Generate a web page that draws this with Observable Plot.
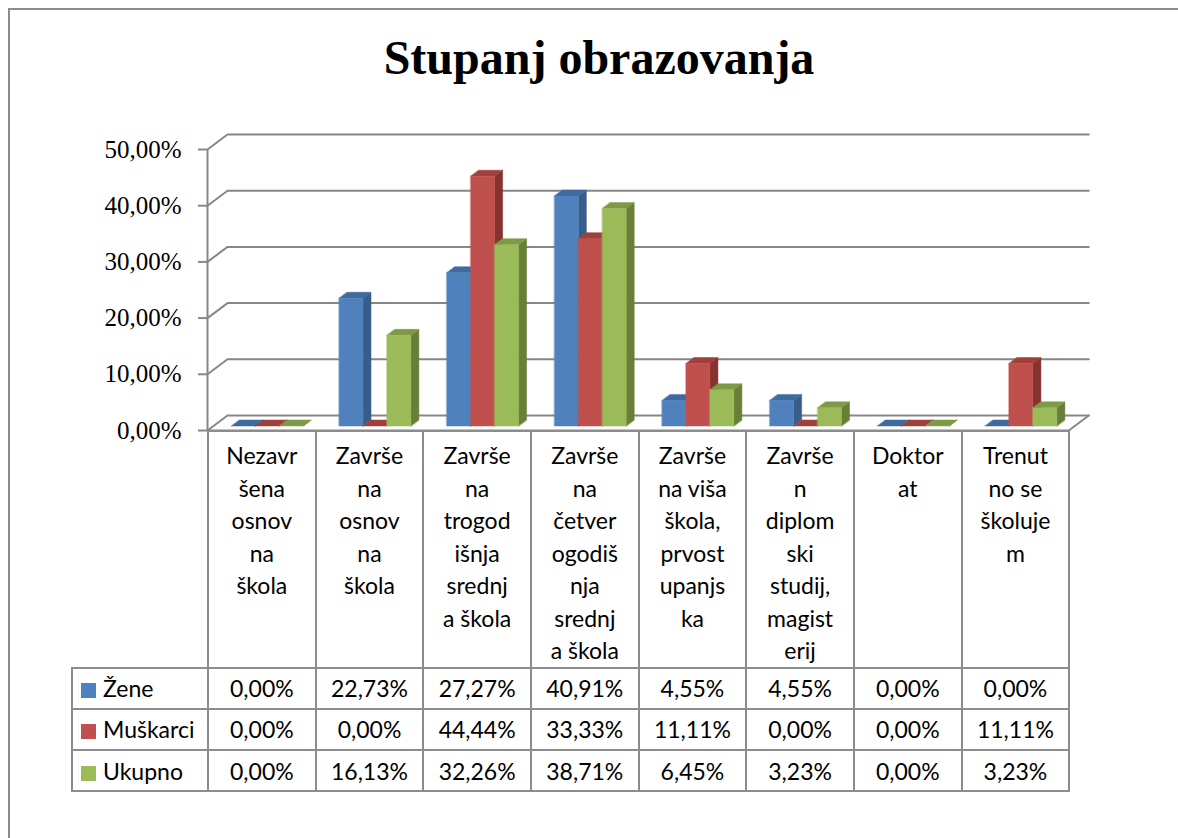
<!DOCTYPE html>
<html><head><meta charset="utf-8">
<script src="https://cdn.jsdelivr.net/npm/d3@7"></script>
<script src="https://cdn.jsdelivr.net/npm/@observablehq/plot@0.6"></script>
<style>
body{margin:0;background:#fff;}
#wrap{position:relative;width:1178px;height:838px;overflow:hidden;background:#fff;}
#frame{position:absolute;left:8px;top:8px;width:1300px;height:1000px;border-left:2px solid #8c8c8c;border-top:2px solid #8c8c8c;}
#title{position:absolute;left:599px;top:34px;transform:translateX(-50%);font-family:"Liberation Serif";font-weight:bold;font-size:48px;line-height:48px;white-space:nowrap;color:#000;}
#chart{position:absolute;left:0;top:100px;}
#tbl{position:absolute;left:71px;top:430px;border-collapse:collapse;table-layout:fixed;font-family:Lato;font-size:23px;color:#000;}
#tbl td{border:2px solid #8c8c8c;text-align:center;padding:0;}
#tbl td.blank{border:none;}
#tbl td.hdr{vertical-align:top;line-height:32.5px;padding-top:7px;}
#tbl td.leg{text-align:left;padding-left:8px;white-space:nowrap;}
#tbl .sw{display:inline-block;width:15px;height:15px;margin-right:7px;vertical-align:-1px;}
</style>
</head><body>
<div id="wrap">
  <div id="frame"></div>
  <div id="title"></div>
  <div id="chart"></div>
  <table id="tbl"></table>
</div>
<script>
// ---- data ----
const chartTitle = "Stupanj obrazovanja";
const categoryLines = [
  ["Nezavr","šena","osnov","na","škola"],
  ["Završe","na","osnov","na","škola"],
  ["Završe","na","trogod","išnja","srednj","a škola"],
  ["Završe","na","četver","ogodiš","nja","srednj","a škola"],
  ["Završe","na viša","škola,","prvost","upanjs","ka"],
  ["Završe","n","diplom","ski","studij,","magist","erij"],
  ["Doktor","at"],
  ["Trenut","no se","školuje","m"]
];
const seriesNames = ["Žene","Muškarci","Ukupno"];
const zene     = [0.00, 22.73, 27.27, 40.91, 4.55, 4.55, 0.00, 0.00];
const muskarci = [0.00, 0.00, 44.44, 33.33, 11.11, 0.00, 0.00, 11.11];
const ukupno   = [0.00, 16.13, 32.26, 38.71, 6.45, 3.23, 0.00, 3.23];
const yTicks = [0, 10, 20, 30, 40, 50];
const frontColors = ["#4F81BD", "#C0504D", "#9BBB59"];
const topColors   = ["#3F6A9E", "#A13F3C", "#7E9A46"];
const sideColors  = ["#385D8A", "#86322F", "#677F37"];

const seriesValues = [zene, muskarci, ukupno];
const fmt = v => v.toFixed(2).replace(".", ",") + "%";

document.getElementById("title").textContent = chartTitle;

// ---- layout ----
const W = 1178, H = 370, mL = 207, mR = 109.7, mT = 49, mB = 40;
const n = categoryLines.length;
const yMax = 50;
const kx = (W - mL - mR) / n, ky = (H - mT - mB) / yMax;
const DX = 20 / kx, DY = 15 / ky;       // depth of the 3D box in data units
const gapRatio = 1.5;
const bw = 1 / (seriesValues.length + gapRatio);
const f0 = 0.3, f1 = 0.7;               // bar depth fraction (front, back)

const P = (x, y, f) => ({x: x + f * DX, y: y + f * DY});

// back wall gridlines and floor
const grid = [];
for (const t of yTicks) {
  grid.push({id: "g" + t, ...P(0, t, 0)}, {id: "g" + t, ...P(0, t, 1)}, {id: "g" + t, ...P(n, t, 1)});
}
const floor = [{id: "f", ...P(0, 0, 0)}, {id: "f", ...P(n, 0, 0)}, {id: "f", ...P(n, 0, 1)}];

// bar polygons
const polys = [];
for (let i = 0; i < n; i++) {
  seriesValues.forEach((vals, j) => {
    const v = vals[i];
    const xl = i + (1 - seriesValues.length * bw) / 2 + j * bw, xr = xl + bw;
    const add = (id, color, pts) => pts.forEach(p => polys.push({id, color, ...p}));
    add(`s${i}-${j}`, sideColors[j], [P(xr, 0, f0), P(xr, v, f0), P(xr, v, f1), P(xr, 0, f1)]);
    add(`t${i}-${j}`, topColors[j], [P(xl, v, f0), P(xr, v, f0), P(xr, v, f1), P(xl, v, f1)]);
    if (v > 0) add(`f${i}-${j}`, frontColors[j], [P(xl, 0, f0), P(xr, 0, f0), P(xr, v, f0), P(xl, v, f0)]);
  });
}

const gridColor = "#878787";
const chart = Plot.plot({
  width: W, height: H,
  marginLeft: mL, marginRight: mR, marginTop: mT, marginBottom: mB,
  x: {domain: [0, n], axis: null},
  y: {domain: [0, yMax], label: null},
  color: {type: "identity"},
  marks: [
    Plot.line(grid, {x: "x", y: "y", z: "id", stroke: gridColor, strokeWidth: 2}),
    Plot.line(floor, {x: "x", y: "y", z: "id", stroke: gridColor, strokeWidth: 2}),
    Plot.ruleX([0], {y1: 0, y2: yMax, stroke: gridColor, strokeWidth: 2}),
    Plot.axisY({ticks: yTicks, tickSize: 9, tickPadding: 17, tickFormat: fmt, label: null,
      fontFamily: "Liberation Serif", fontSize: 25, stroke: gridColor, strokeWidth: 2, fill: "#000"}),
    Plot.line(polys, {x: "x", y: "y", z: "id", fill: "color", stroke: "color", strokeWidth: 0.5, curve: "linear-closed"})
  ]
});
document.getElementById("chart").appendChild(chart);

// ---- data table ----
const tbl = document.getElementById("tbl");
const colgroup = document.createElement("colgroup");
const c0 = document.createElement("col"); c0.style.width = (mL - 71) + "px"; colgroup.appendChild(c0);
for (let i = 0; i < n; i++) { const c = document.createElement("col"); c.style.width = kx + "px"; colgroup.appendChild(c); }
tbl.appendChild(colgroup);
tbl.style.width = (mL - 71 + kx * n) + "px";
const hr = document.createElement("tr"); hr.style.height = "232px";
const blank = document.createElement("td"); blank.className = "blank"; hr.appendChild(blank);
for (const lines of categoryLines) {
  const td = document.createElement("td"); td.className = "hdr";
  td.innerHTML = lines.join("<br>");
  hr.appendChild(td);
}
tbl.appendChild(hr);
seriesNames.forEach((name, j) => {
  const tr = document.createElement("tr"); tr.style.height = "41.3px";
  const lg = document.createElement("td"); lg.className = "leg";
  const sw = document.createElement("span"); sw.className = "sw"; sw.style.background = frontColors[j];
  lg.appendChild(sw); lg.appendChild(document.createTextNode(name));
  tr.appendChild(lg);
  seriesValues[j].forEach(v => { const td = document.createElement("td"); td.textContent = fmt(v); tr.appendChild(td); });
  tbl.appendChild(tr);
});
</script>
</body></html>
